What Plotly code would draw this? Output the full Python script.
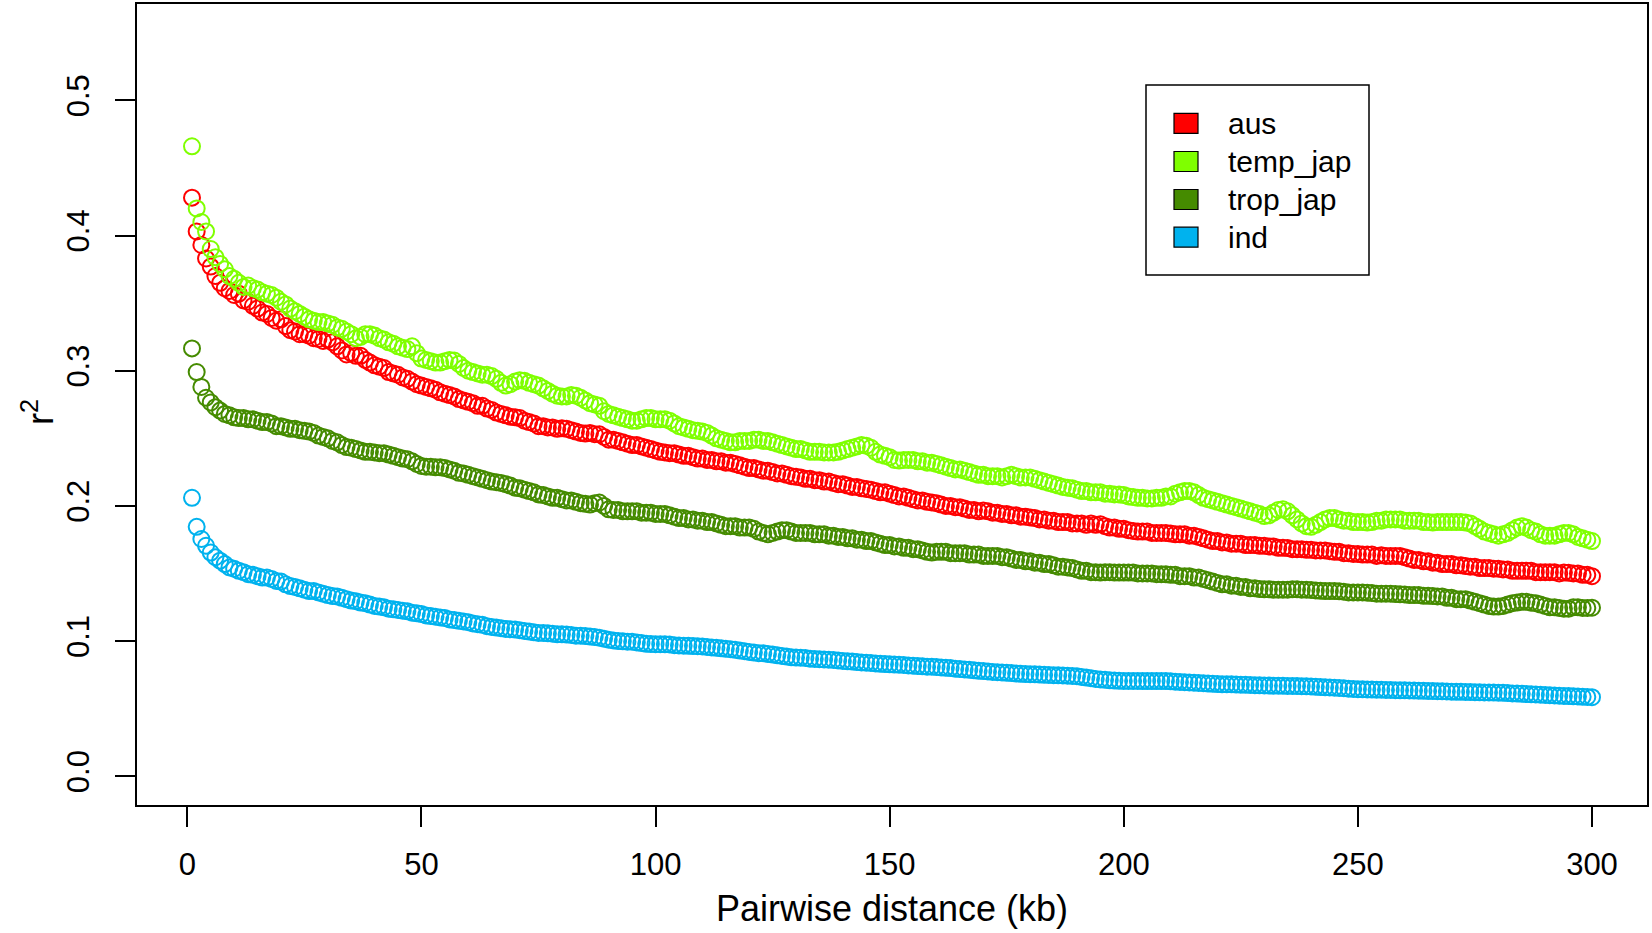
import plotly.graph_objects as go

# ---------------- data ----------------
distance_kb = list(range(1, 301))

series_names = ["aus", "temp_jap", "trop_jap", "ind"]
series_colors = ["#FF0000", "#7FFF00", "#458B00", "#00B2EE"]

aus = [
    .428, .403, .393, .383, .377, .370, .365, .361, .359, .356,
    .357, .352, .351, .348, .346, .343, .342, .339, .337, .338,
    .333, .330, .329, .327, .327, .326, .324, .3235, .322, .323,
    .321, .318, .315, .312, .313, .311, .311, .308, .306, .304,
    .303, .302, .299, .298, .297, .295, .294, .292, .290, .289,
    .288, .287, .286, .284, .283, .282, .281, .279, .278, .277,
    .276, .274, .274, .272, .271, .269, .268, .267, .266, .2655,
    .265, .263, .262, .261, .259, .259, .258, .258, .257, .2575,
    .257, .256, .255, .254, .2535, .254, .253, .253, .251, .249,
    .249, .248, .247, .246, .245, .245, .244, .243, .242, .241,
    .240, .2395, .239, .239, .238, .237, .237, .236, .235, .235,
    .234, .234, .233, .233, .232, .232, .231, .230, .229, .228,
    .228, .227, .226, .226, .225, .224, .224, .223, .222, .2215,
    .221, .220, .220, .219, .219, .218, .218, .217, .216, .216,
    .215, .214, .214, .213, .2125, .212, .211, .210, .210, .209,
    .208, .207, .207, .206, .205, .204, .204, .203, .2025, .202,
    .201, .200, .200, .199, .199, .198, .197, .197, .196, .1965,
    .196, .195, .195, .194, .194, .193, .193, .192, .192, .1915,
    .191, .190, .190, .189, .189, .188, .188, .188, .187, .187,
    .187, .186, .187, .186, .1865, .185, .184, .184, .183, .183,
    .182, .1815, .181, .181, .181, .180, .180, .180, .180, .1795,
    .179, .179, .179, .178, .178, .177, .176, .175, .174, .174,
    .173, .173, .172, .172, .172, .171, .171, .171, .1705, .1705,
    .170, .170, .169, .169, .1688, .168, .168, .168, .1675, .1675,
    .167, .167, .167, .1665, .166, .166, .165, .165, .1645, .1645,
    .164, .164, .164, .163, .1635, .163, .163, .163, .163, .162,
    .161, .160, .160, .159, .159, .158, .158, .157, .157, .157,
    .156, .156, .1555, .155, .155, .154, .154, .154, .1535, .1535,
    .153, .153, .152, .152, .152, .152, .152, .151, .151, .151,
    .151, .151, .150, .1507, .1505, .150, .150, .149, .149, .148,
]

temp_jap = [
    .466, .420, .410, .403, .390, .384, .379, .375, .370, .368,
    .365, .362, .363, .361, .360, .358, .357, .356, .354, .351,
    .349, .346, .344, .342, .340, .338, .337, .336, .336, .335,
    .334, .332, .331, .329, .327, .324, .325, .327, .327, .326,
    .324, .323, .321, .320, .318, .317, .316, .318, .313, .309,
    .308, .307, .306, .306, .307, .308, .3075, .305, .302, .300,
    .299, .298, .297, .297, .296, .294, .291, .289, .290, .292,
    .293, .2925, .291, .290, .289, .287, .285, .283, .2815, .281,
    .281, .282, .2815, .280, .278, .276, .275, .274, .270, .268,
    .267, .266, .265, .264, .263, .263, .264, .265, .265, .264,
    .264, .264, .263, .261, .259, .258, .257, .256, .2555, .255,
    .254, .252, .250, .249, .248, .247, .247, .248, .248, .248,
    .249, .249, .248, .248, .247, .246, .245, .244, .243, .242,
    .242, .241, .240, .240, .240, .2395, .2395, .2395, .240, .241,
    .242, .243, .244, .245, .2445, .243, .240, .238, .237, .236,
    .234, .2335, .234, .234, .234, .233, .233, .232, .232, .231,
    .230, .229, .228, .227, .227, .226, .225, .224, .223, .223,
    .222, .222, .222, .221, .222, .223, .222, .221, .221, .221,
    .220, .219, .218, .217, .216, .215, .214, .2135, .213, .212,
    .211, .211, .210, .210, .210, .209, .209, .2085, .2085, .208,
    .207, .2065, .206, .206, .2055, .2055, .206, .206, .207, .207,
    .209, .210, .211, .211, .210, .208, .206, .205, .204, .203,
    .202, .201, .200, .199, .198, .197, .196, .195, .194, .1925,
    .193, .195, .197, .1975, .196, .193, .190, .187, .185, .1845,
    .186, .188, .190, .191, .191, .190, .189, .189, .188, .188,
    .188, .1877, .188, .189, .189, .190, .190, .190, .190, .189,
    .189, .189, .189, .188, .188, .1877, .188, .188, .188, .188,
    .188, .188, .1877, .187, .185, .183, .181, .180, .179, .178,
    .179, .180, .182, .184, .185, .184, .182, .181, .179, .178,
    .178, .178, .179, .180, .180, .179, .177, .176, .175, .174,
]

trop_jap = [
    .3165, .299, .288, .280, .2765, .273, .2705, .268, .267, .2655,
    .265, .265, .264, .264, .263, .262, .262, .261, .259, .259,
    .258, .257, .257, .256, .2555, .255, .254, .252, .251, .250,
    .248, .247, .245, .2435, .243, .242, .241, .240, .240, .2395,
    .239, .239, .238, .237, .236, .235, .2345, .233, .231, .2295,
    .229, .229, .2285, .2285, .228, .227, .226, .2245, .224, .223,
    .222, .221, .220, .219, .218, .2175, .217, .216, .215, .2135,
    .213, .212, .211, .210, .2085, .208, .207, .206, .206, .205,
    .204, .204, .203, .202, .2015, .201, .202, .2025, .200, .1975,
    .197, .197, .196, .196, .196, .196, .195, .195, .195, .194,
    .194, .194, .193, .192, .191, .191, .190, .190, .189, .189,
    .188, .188, .187, .186, .185, .185, .185, .184, .184, .184,
    .183, .181, .180, .179, .180, .181, .182, .182, .181, .180,
    .180, .180, .180, .179, .179, .179, .178, .178, .177, .177,
    .176, .176, .175, .175, .174, .174, .173, .172, .171, .171,
    .170, .170, .169, .169, .168, .168, .167, .166, .1655, .166,
    .166, .166, .165, .165, .165, .165, .164, .164, .164, .163,
    .163, .163, .163, .162, .162, .161, .160, .160, .159, .159,
    .158, .158, .157, .157, .156, .155, .155, .1545, .154, .153,
    .152, .152, .151, .151, .1507, .151, .151, .1507, .1507, .1507,
    .1507, .1507, .150, .150, .150, .150, .1495, .1495, .1494, .149,
    .149, .148, .148, .148, .147, .147, .146, .145, .144, .143,
    .142, .142, .141, .141, .140, .140, .139, .139, .1385, .1383,
    .1383, .138, .138, .138, .138, .1383, .1383, .138, .138, .1378,
    .1375, .1372, .137, .137, .137, .1368, .1365, .136, .136, .136,
    .136, .1358, .1355, .135, .135, .135, .135, .1348, .1346, .1345,
    .134, .134, .134, .1335, .1335, .1333, .133, .133, .132, .132,
    .131, .131, .131, .130, .129, .128, .127, .126, .1255, .1255,
    .126, .127, .128, .1285, .129, .129, .1284, .128, .127, .126,
    .125, .125, .1245, .124, .124, .125, .125, .1245, .1245, .1247,
]

ind = [
    .206, .1845, .1755, .1705, .1655, .162, .1595, .157, .1545, .1535,
    .152, .151, .1495, .149, .148, .147, .147, .146, .1445, .144,
    .142, .1407, .140, .139, .138, .137, .137, .136, .135, .134,
    .1333, .133, .132, .131, .130, .1295, .1285, .128, .127, .126,
    .1255, .125, .124, .1235, .123, .1225, .122, .121, .1205, .120,
    .119, .1185, .118, .1175, .117, .116, .1155, .115, .1145, .114,
    .113, .1125, .112, .111, .1105, .110, .1095, .109, .1088, .1085,
    .108, .1075, .107, .1065, .106, .106, .1057, .1055, .105, .105,
    .1048, .1045, .104, .104, .1037, .1033, .103, .1025, .1018, .101,
    .1005, .100, .0998, .0995, .0995, .099, .0985, .098, .0978, .0977,
    .0977, .0976, .0975, .097, .0968, .0966, .0965, .0963, .0962, .096,
    .0957, .0953, .095, .0946, .0943, .094, .0935, .093, .0925, .092,
    .0915, .091, .091, .0905, .090, .0895, .089, .0885, .088, .0878,
    .0877, .0875, .087, .0868, .0866, .0864, .0862, .086, .0857, .0853,
    .085, .0848, .0845, .0842, .084, .0838, .0835, .0832, .083, .0828,
    .0826, .0825, .0823, .082, .0818, .0815, .0813, .081, .081, .0808,
    .0805, .0802, .080, .0796, .0793, .079, .0787, .0784, .078, .0778,
    .0775, .0772, .077, .0768, .0765, .0763, .076, .0758, .0756, .0755,
    .0754, .0752, .075, .0749, .0748, .0747, .0746, .0744, .0742, .074,
    .0735, .073, .0725, .072, .0716, .0713, .071, .0708, .0706, .0705,
    .0705, .0705, .0705, .0704, .0704, .0704, .0704, .0704, .0704, .0702,
    .070, .0698, .0696, .0694, .0692, .069, .0688, .0686, .0684, .0682,
    .068, .068, .068, .0678, .0677, .0676, .0675, .0674, .0673, .0672,
    .0671, .067, .067, .0669, .0668, .0668, .0667, .0666, .0665, .0664,
    .0662, .066, .0658, .0657, .0655, .0653, .0651, .0648, .0646, .0644,
    .0643, .0642, .0641, .064, .064, .0639, .0638, .0637, .0636, .0636,
    .0635, .0634, .0633, .0632, .0631, .063, .0629, .0628, .0627, .0626,
    .0625, .0625, .0624, .0623, .0622, .0621, .062, .062, .0619, .0618,
    .0617, .0615, .0613, .0612, .061, .0608, .0606, .0605, .0603, .0601,
    .060, .0598, .0596, .0594, .0593, .0591, .059, .0588, .0587, .0585,
]

x_ticks = [0, 50, 100, 150, 200, 250, 300]
y_ticks = [0.0, 0.1, 0.2, 0.3, 0.4, 0.5]
x_label = "Pairwise distance (kb)"
y_label = "r<sup>2</sup>"

# ---------------- figure ----------------
W, H = 1652, 933
ML, MR, MT, MB = 136, 4, 3, 127
FONT = "Liberation Sans, Arial, Helvetica, sans-serif"

fig = go.Figure()
for name, color, vals in zip(series_names, series_colors, [aus, temp_jap, trop_jap, ind]):
    fig.add_trace(go.Scatter(
        x=distance_kb, y=vals, mode="markers", name=name, showlegend=False,
        marker=dict(symbol="circle-open", size=16, color=color,
                    line=dict(width=2, color=color)),
    ))

pw = W - ML - MR
ph = H - MT - MB


def px(xp):
    return (xp - ML) / pw


def py(yp):
    return (H - MB - yp) / ph


shapes = [
    dict(type="rect", xref="paper", yref="paper", x0=0, x1=1, y0=0, y1=1,
         line=dict(color="black", width=2), layer="above"),
    dict(type="rect", xref="paper", yref="paper",
         x0=px(1146), x1=px(1369), y0=py(275), y1=py(85),
         line=dict(color="black", width=1.5), fillcolor="white"),
]
annotations = []
row_y = [123.3, 161.5, 199.5, 237.2]
for name, color, ry in zip(series_names, series_colors, row_y):
    shapes.append(dict(type="rect", xref="paper", yref="paper",
                       x0=px(1174), x1=px(1198), y0=py(ry + 10), y1=py(ry - 10),
                       line=dict(color="black", width=1.2), fillcolor=color))
    annotations.append(dict(xref="paper", yref="paper", x=px(1226), y=py(ry),
                            xanchor="left", yanchor="middle", showarrow=False,
                            text=name, font=dict(size=30, color="black", family=FONT)))

# y-axis title placed as rotated text
annotations.append(dict(xref="paper", yref="paper", x=px(38), y=py(412),
                        xanchor="center", yanchor="middle", showarrow=False,
                        textangle=-90, text=y_label,
                        font=dict(size=36, color="black", family=FONT)))

fig.update_layout(
    width=W, height=H,
    margin=dict(l=ML, r=MR, t=MT, b=MB, autoexpand=False),
    paper_bgcolor="white", plot_bgcolor="white",
    font=dict(family=FONT, color="black"),
    shapes=shapes, annotations=annotations,
    xaxis=dict(range=[-10.96, 311.96], tickvals=x_ticks, ticktext=[str(v) for v in x_ticks],
               ticks="outside", ticklen=20, tickwidth=2, tickcolor="black",
               showgrid=False, zeroline=False, showline=False, automargin=False,
               tickfont=dict(size=31, family=FONT), ticklabelstandoff=11,
               title=dict(text=x_label, font=dict(size=36, family=FONT), standoff=14)),
    yaxis=dict(range=[-0.022, 0.572], tickvals=y_ticks, ticktext=["%.1f" % v for v in y_ticks],
               ticks="outside", ticklen=20, tickwidth=2, tickcolor="black",
               showgrid=False, zeroline=False, showline=False, tickangle=-90, automargin=False,
               tickfont=dict(size=31, family=FONT), ticklabelstandoff=14),
)

fig.write_html(
    "out.html",
    config={"displayModeBar": False},
    post_script="document.body.style.margin='0';document.body.style.overflow='hidden';",
)
